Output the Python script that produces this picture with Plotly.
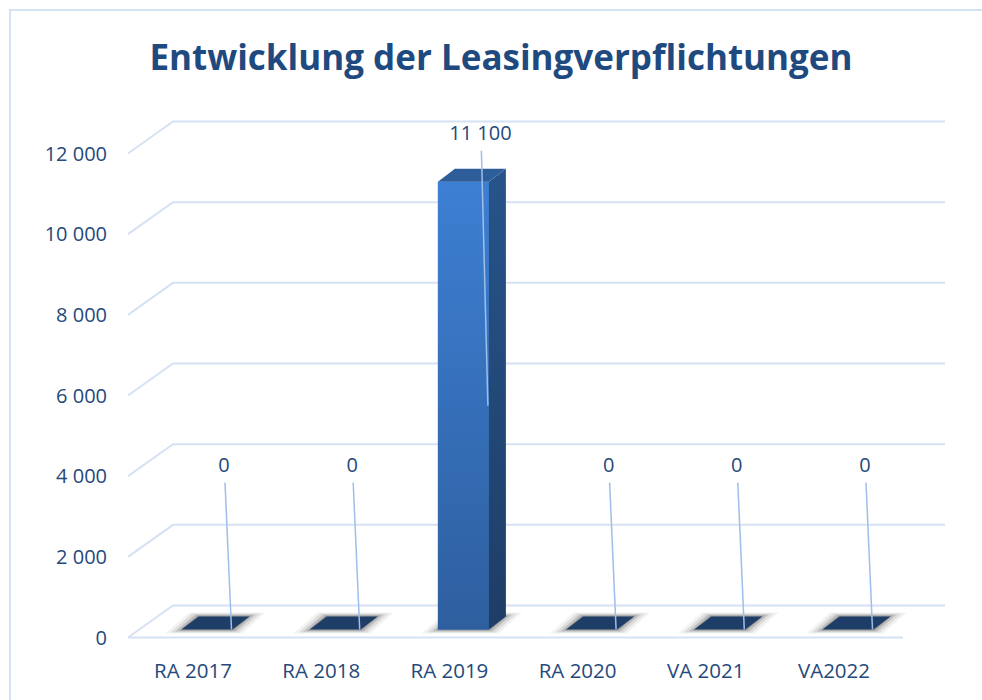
import plotly.graph_objects as go

# ---------------- data ----------------
categories = ["RA 2017", "RA 2018", "RA 2019", "RA 2020", "VA 2021", "VA2022"]
values = [0, 0, 11100, 0, 0, 0]
value_labels = ["0", "0", "11 100", "0", "0", "0"]
y_ticks = [0, 2000, 4000, 6000, 8000, 10000, 12000]
y_tick_labels = ["0", "2 000", "4 000", "6 000", "8 000", "10 000", "12 000"]
title_text = "Entwicklung der Leasingverpflichtungen"

# ---------------- geometry (window pixel coords; page margin removed) ----------------
W, H = 982, 700
PLOT_L, PLOT_R, PLOT_T, PLOT_B = 118, 960, 110, 655
ML, MT = PLOT_L, PLOT_T
MR = W - PLOT_R
MB = H - PLOT_B
PX_PER_CAT = 128.2
X0_PX = 193.0          # pixel of category 0 (front plane)
Y0_PX = 637.5          # pixel of value 0 (front plane)
PLOT_H = PLOT_B - PLOT_T
PLOT_W = PLOT_R - PLOT_L
PX_PER_VAL = 484.0 / 12000.0

def dxp(px):
    return px / PX_PER_CAT

def dvp(px):
    return px / PX_PER_VAL

x_range = [dxp(PLOT_L - X0_PX), dxp(PLOT_R - X0_PX)]
y_range = [-dvp(PLOT_B - Y0_PX), dvp(Y0_PX - PLOT_T)]

# 3D look offsets
WALL_DX, WALL_DY = dxp(45), dvp(32)      # back wall offset
BAR_SHIFT = dxp(14)                       # bar front offset from category centre
BAR_W = dxp(51)
BAR_BASE = dvp(8)
DEPTH_DX, DEPTH_DY = dxp(17), dvp(13)
GRID_FRONT_X = dxp(128 - X0_PX)
GRID_END_X = dxp(945 - X0_PX)
FLOOR_FRONT_END = dxp(903 - X0_PX)

TXT = "#25497A"
GRID = "#D6E2F3"

fig = go.Figure()
shapes = []

def path(pts):
    return "M " + " L ".join(f"{x},{y}" for x, y in pts) + " Z"

def open_path(pts):
    return "M " + " L ".join(f"{x},{y}" for x, y in pts)

# gridlines (3D wall)
for v in y_ticks:
    shapes.append(dict(type="path", layer="below", xref="x", yref="y",
                       path=open_path([(GRID_FRONT_X, v),
                                       (GRID_FRONT_X + WALL_DX, v + WALL_DY),
                                       (GRID_END_X, v + WALL_DY)]),
                       line=dict(color=GRID, width=2)))
# floor front edge
shapes.append(dict(type="line", layer="below", xref="x", yref="y",
                   x0=GRID_FRONT_X, x1=FLOOR_FRONT_END, y0=0, y1=0,
                   line=dict(color=GRID, width=2)))

# shadows at bar footprints
for i, v in enumerate(values):
    xl = i + BAR_SHIFT - BAR_W / 2
    xr = i + BAR_SHIFT + BAR_W / 2
    for ex, ey, op in [(16, 4, 0.06), (11, 3, 0.10), (6, 2, 0.16), (2, 1, 0.22)]:
        pts = [(xl - dxp(ex), BAR_BASE - dvp(ey)),
               (xr + dxp(ex * 0.6), BAR_BASE - dvp(ey)),
               (xr + DEPTH_DX + dxp(ex), BAR_BASE + DEPTH_DY + dvp(ey)),
               (xl + DEPTH_DX - dxp(ex * 0.6), BAR_BASE + DEPTH_DY + dvp(ey))]
        shapes.append(dict(type="path", layer="below", xref="x", yref="y",
                           path=path(pts), fillcolor=f"rgba(40,40,40,{op})",
                           line=dict(width=0)))

# chart border (top and left edges visible)
def paper_x(px):
    return (px - PLOT_L) / PLOT_W

def paper_y(py):
    return (PLOT_B - py) / PLOT_H

shapes.append(dict(type="line", xref="paper", yref="paper",
                   x0=paper_x(9), x1=paper_x(990), y0=paper_y(10), y1=paper_y(10),
                   line=dict(color="#D3E2F4", width=2), layer="below"))
shapes.append(dict(type="line", xref="paper", yref="paper",
                   x0=paper_x(10), x1=paper_x(10), y0=paper_y(10), y1=paper_y(710),
                   line=dict(color="#D3E2F4", width=2), layer="below"))

# front faces of bars
xs = [i + BAR_SHIFT for i in range(len(categories))]
fig.add_trace(go.Bar(x=xs, y=values, base=[BAR_BASE] * len(values), width=BAR_W,
                     marker=dict(color="#3571BD", line=dict(width=0)),
                     hoverinfo="skip", showlegend=False))

for i, v in enumerate(values):
    xl = i + BAR_SHIFT - BAR_W / 2
    xr = i + BAR_SHIFT + BAR_W / 2
    top = BAR_BASE + v
    if v > 0:
        # gradient over front face
        fig.add_trace(go.Scatter(
            x=[xl, xr, xr, xl, xl], y=[BAR_BASE, BAR_BASE, top, top, BAR_BASE],
            mode="lines", fill="toself", line=dict(width=0),
            fillgradient=dict(type="vertical",
                              colorscale=[[0, "#2E5F9F"], [1, "#3D7FD3"]]),
            hoverinfo="skip", showlegend=False))
        # side face
        fig.add_trace(go.Scatter(
            x=[xr, xr + DEPTH_DX, xr + DEPTH_DX, xr, xr],
            y=[BAR_BASE, BAR_BASE + DEPTH_DY, top + DEPTH_DY, top, BAR_BASE],
            mode="lines", fill="toself", line=dict(width=0),
            fillgradient=dict(type="vertical",
                              colorscale=[[0, "#1E3D66"], [1, "#27548A"]]),
            hoverinfo="skip", showlegend=False))
        top_color = "#2E5E9A"
    else:
        top_color = "#1F3E67"
    # top face
    fig.add_trace(go.Scatter(
        x=[xl, xr, xr + DEPTH_DX, xl + DEPTH_DX, xl],
        y=[top, top, top + DEPTH_DY, top + DEPTH_DY, top],
        mode="lines", fill="toself", fillcolor=top_color, line=dict(width=0),
        hoverinfo="skip", showlegend=False))

# data labels with leader lines
lab_x, lab_y = [], []
for i, v in enumerate(values):
    lx = i + dxp(31)
    ly = v + dvp(55) if v > 0 else dvp(171)
    lab_x.append(lx)
    lab_y.append(ly)
    xr = i + BAR_SHIFT + BAR_W / 2
    fig.add_trace(go.Scatter(
        x=[lx + dxp(1), xr - dxp(1)], y=[ly - dvp(16), BAR_BASE + v / 2],
        mode="lines", line=dict(color="#9DBFEA", width=1.5),
        hoverinfo="skip", showlegend=False))

fig.add_trace(go.Scatter(x=lab_x, y=lab_y, mode="text", text=value_labels,
                         textposition="middle center",
                         textfont=dict(family="Open Sans", size=20, color=TXT),
                         hoverinfo="skip", showlegend=False))

fig.update_layout(
    width=W, height=H,
    margin=dict(l=ML, r=MR, t=MT, b=MB, autoexpand=False),
    paper_bgcolor="white", plot_bgcolor="white",
    title=dict(text=f"<b>{title_text}</b>", x=501 / W, xanchor="center",
               y=1 - 58 / H, yanchor="middle", yref="container",
               font=dict(family="Open Sans", size=35, color="#1F4A7F")),
    xaxis=dict(range=x_range, showgrid=False, zeroline=False, showline=False,
               automargin=False,
               tickmode="array", tickvals=list(range(len(categories))),
               ticktext=categories, ticks="", ticklabelstandoff=1,
               tickfont=dict(family="Open Sans", size=20.5, color=TXT),
               fixedrange=True),
    yaxis=dict(range=y_range, showgrid=False, zeroline=False, showline=False,
               automargin=False,
               tickmode="array", tickvals=y_ticks, ticktext=y_tick_labels,
               ticks="", ticklabelstandoff=10,
               tickfont=dict(family="Open Sans", size=20, color=TXT),
               fixedrange=True),
    shapes=shapes,
    showlegend=False,
)

fig.write_html(
    "out.html",
    config={"displayModeBar": False},
    post_script=("document.body.style.margin='0';"
                 "document.body.style.overflow='hidden';"
                 "document.documentElement.style.overflow='hidden';"),
)
